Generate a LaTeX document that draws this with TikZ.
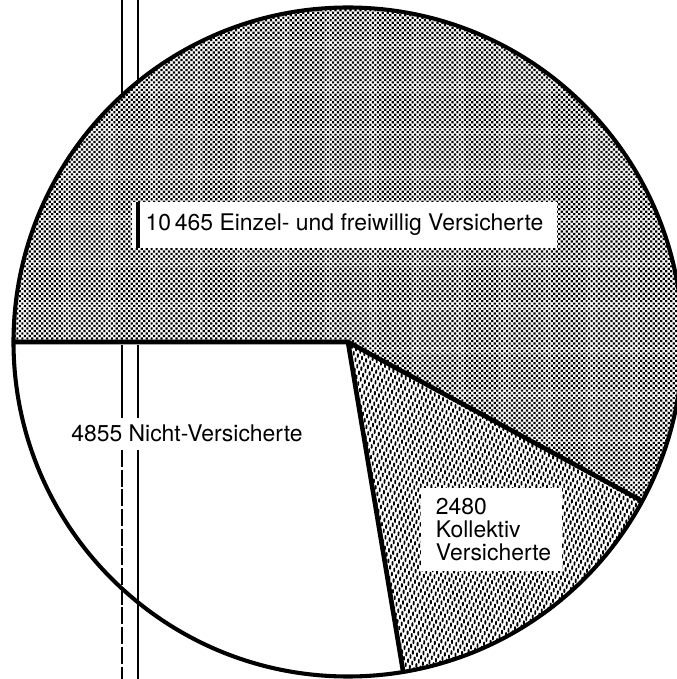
\documentclass[tikz,border=0pt]{standalone}
\usepackage{fontspec}
\setmainfont{TeX Gyre Heros}
\usetikzlibrary{calc,positioning,patterns.meta}

\tikzdeclarepattern{
  name=einzeldots,
  type=uncolored,
  bounding box={(-1.3pt,-1.3pt) and (1.3pt,1.3pt)},
  tile size={(2.5pt,2.5pt)},
  tile transformation={rotate=45},
  code={\pgfpathcircle{\pgfpointorigin}{1.1pt}\pgfusepath{fill}}
}
\tikzdeclarepattern{
  name=kollstrich,
  type=uncolored,
  bounding box={(-2pt,-2pt) and (2pt,2pt)},
  tile size={(3.4pt,3.4pt)},
  tile transformation={rotate=-30},
  code={\pgfsetlinewidth{1.3pt}\pgfsetroundcap
        \pgfpathmoveto{\pgfpoint{-0.5pt}{0.9pt}}\pgfpathlineto{\pgfpoint{0.5pt}{-0.9pt}}\pgfusepath{stroke}}
}

\tikzset{
  rim/.style={line width=2.9pt},
  spoke/.style={line width=3.3pt},
  gutter/.style={line width=1.8pt},
  lbl/.style={font=\fontsize{16.3}{16.4}\selectfont, inner sep=0pt},
  lblbox/.style={lbl, fill=white}
}

\begin{document}
\begin{tikzpicture}[x=0.025cm,y=0.025cm]
	\useasboundingbox (0,0) rectangle (677,679);
	\coordinate (ctr) at (348,337);
	\coordinate (wl) at ($(ctr)+(180:334.5)$);
	\coordinate (wb) at ($(ctr)+(279.5:334.5)$);
	\coordinate (wr) at ($(ctr)+(-28.4:334.5)$);
	% gutter lines of the scan
	\coordinate (gutL) at (122,679);
	\coordinate (gutR) at (138,679);
	\draw[gutter] (gutL) -- ++(0,-130);
	\draw[gutter] (gutR) -- ++(0,-130);
	\draw[gutter] (122,334) -- (122,261);
	\draw[gutter] (138,334) -- (138,261);
	\draw[gutter, dash pattern=on 12pt off 2pt] (122,229) -- (122,0);
	\draw[gutter] (138,229) -- (138,0);
	% wedges
	\fill[preaction={fill=white}, pattern=einzeldots] (ctr) -- (wr) arc[start angle=-28.4, end angle=180, radius=334.5] -- cycle;
	\fill[preaction={fill=white}, pattern=kollstrich] (ctr) -- (wb) arc[start angle=279.5, end angle=331.6, radius=334.5] -- cycle;
	\draw[rim] (ctr) circle[radius=334.5];
	\draw[spoke] (wl) -- (ctr) -- (wb);
	\draw[spoke] (ctr) -- (wr);
	% labels
	\node[lblbox, minimum width=10.625cm, minimum height=1.15cm] (einzel) at (344.5,454) {10\,465 Einzel- und freiwillig Versicherte};
	\draw[line width=2.6pt] (einzel.north west -| gutR) -- (einzel.south west -| gutR);
	\node[lbl, anchor=base west] (nicht) at (71,237.5) {4855 Nicht-Versicherte};
	\node[lblbox, minimum width=3.525cm, minimum height=2.075cm, text width=2.775cm, inner xsep=0.375cm, align=left] (koll) at (491.5,149.5) {2480\\Kollektiv\\Versicherte};
\end{tikzpicture}
\end{document}
